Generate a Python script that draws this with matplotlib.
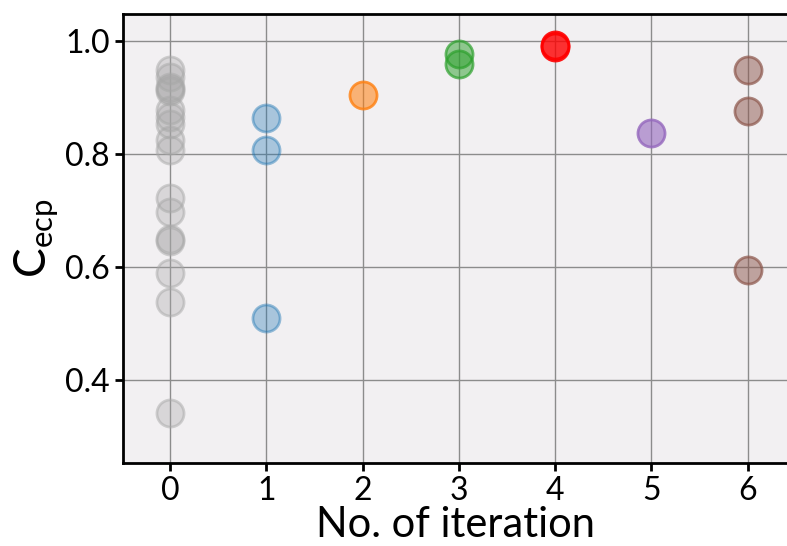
import matplotlib.pyplot as plt
from matplotlib.colors import to_rgba

# === DATI ===
iter0 = [0.949, 0.937, 0.919, 0.916, 0.912, 0.878, 0.866, 0.854, 0.825, 0.807,
         0.722, 0.698, 0.649, 0.647, 0.589, 0.539, 0.341]
iter1 = [0.865, 0.808, 0.51]
iter2 = [0.905]
iter3 = [0.978, 0.960]
iter4 = [0.993, 0.990]
iter5 = [0.838]
iter6 = [0.950, 0.877, 0.594]

series = [iter0, iter1, iter2, iter3, iter4, iter5, iter6]
colors = ['#a8a8a8', 'tab:blue', 'tab:orange', 'tab:green', 'red', 'tab:purple', 'tab:brown']
face_alpha = [0.35, 0.35, 0.55, 0.5, 0.55, 0.6, 0.5]
edge_alpha = [0.5, 0.45, 0.8, 0.7, 0.9, 0.8, 0.7]
xticks = [0, 1, 2, 3, 4, 5, 6]
yticks = [0.4, 0.6, 0.8, 1.0]

plt.rcParams['font.family'] = ['Lato', 'DejaVu Sans']
plt.rcParams['mathtext.fontset'] = 'custom'
plt.rcParams['mathtext.rm'] = 'Lato'

fig = plt.figure(figsize=(7.87, 5.46), dpi=100)
ax = fig.add_axes([0.1563, 0.152, 0.8437, 0.822])
ax.set_facecolor('#f2f0f2')

for i, vals in enumerate(series):
    ax.scatter([xticks[i]] * len(vals), vals, s=380,
               facecolors=[to_rgba(colors[i], face_alpha[i])],
               edgecolors=[to_rgba(colors[i], edge_alpha[i])],
               linewidths=2, zorder=3)

ax.set_xlim(-0.49, 6.41)
ax.set_ylim(0.253, 1.048)
ax.set_xticks(xticks)
ax.set_yticks(yticks)
ax.set_yticklabels(['0.4', '0.6', '0.8', '1.0'])
ax.grid(True, color='#8c8c8c', linewidth=1)
ax.set_axisbelow(True)

for side in ['left', 'bottom', 'top']:
    ax.spines[side].set_linewidth(2)
ax.spines['right'].set_visible(False)
ax.tick_params(labelsize=23, width=2, length=6, direction='out')

ax.set_xlabel('No. of iteration', fontsize=30, labelpad=0)
ax.set_ylabel(r'C$_{\rm ecp}$', fontsize=32, labelpad=4)

fig.savefig('out.png', dpi=100)
